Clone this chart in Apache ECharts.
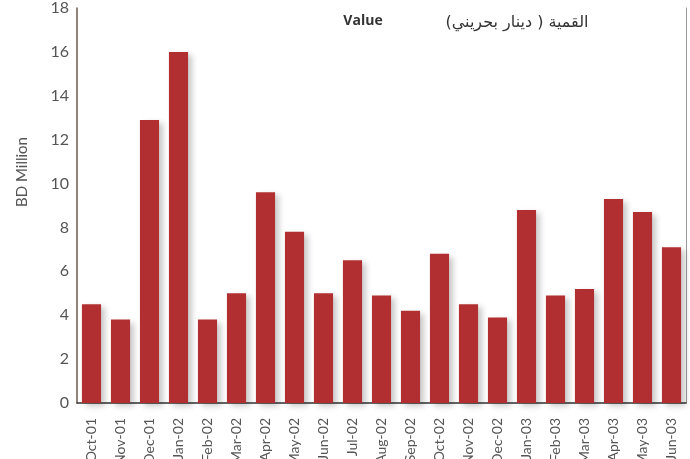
<!DOCTYPE html>
<html>
<head>
<meta charset="utf-8">
<script src="https://cdn.jsdelivr.net/npm/echarts@6/dist/echarts.min.js"></script>
<style>
  html, body { margin: 0; padding: 0; background: #fff; }
  #main { width: 690px; height: 459px; }
</style>
</head>
<body>
<div id="main"></div>
<script>
// months along the bottom
var months = ['Oct-01', 'Nov-01', 'Dec-01', 'Jan-02', 'Feb-02', 'Mar-02', 'Apr-02', 'May-02',
  'Jun-02', 'Jul-02', 'Aug-02', 'Sep-02', 'Oct-02', 'Nov-02', 'Dec-02', 'Jan-03', 'Feb-03',
  'Mar-03', 'Apr-03', 'May-03', 'Jun-03'];
// value in BD million
var values = [4.5, 3.8, 12.9, 16.0, 3.8, 5.0, 9.6, 7.8, 5.0, 6.5, 4.9, 4.2, 6.8, 4.5, 3.9, 8.8,
  4.9, 5.2, 9.3, 8.7, 7.1];
var yTicks = [0, 2, 4, 6, 8, 10, 12, 14, 16, 18];

var labelFont = 'Lato, "DejaVu Sans", sans-serif';
var chart = echarts.init(document.getElementById('main'));

chart.setOption({
  animation: false,
  grid: { left: 77, right: 4, top: 8, bottom: 56, containLabel: false, outerBoundsMode: 'none' },
  xAxis: {
    type: 'category',
    data: months,
    axisLine: { lineStyle: { color: '#333', width: 1.5 } },
    axisTick: { show: false },
    axisLabel: {
      rotate: 90,
      margin: 15,
      interval: 0,
      color: '#555',
      fontSize: 14,
      fontFamily: labelFont
    }
  },
  yAxis: [{
    type: 'value',
    min: yTicks[0],
    max: yTicks[yTicks.length - 1],
    interval: 2,
    axisLine: { show: true, lineStyle: { color: '#6e5b50', width: 1.5 } },
    axisTick: { show: false },
    splitLine: { show: false },
    axisLabel: {
      margin: 8,
      color: '#555',
      fontSize: 16,
      fontFamily: labelFont
    }
  }, {
    type: 'value',
    position: 'right',
    min: 0,
    max: 18,
    axisLine: { show: true, lineStyle: { color: '#999', width: 1 } },
    axisTick: { show: false },
    axisLabel: { show: false },
    splitLine: { show: false }
  }],
  series: [{
    type: 'bar',
    data: values,
    barWidth: '66%',
    itemStyle: {
      color: '#b22f31',
      shadowColor: 'rgba(0,0,0,0.22)',
      shadowBlur: 6,
      shadowOffsetX: 4,
      shadowOffsetY: 3
    }
  }],
  graphic: [
    {
      type: 'text',
      x: 22, y: 172,
      rotation: Math.PI / 2,
      style: {
        text: 'BD Million',
        fill: '#555',
        font: '15px ' + labelFont,
        align: 'center',
        verticalAlign: 'middle'
      }
    },
    {
      type: 'text',
      x: 363, y: 21,
      style: {
        text: 'Value',
        fill: '#333',
        font: 'bold 14px "Open Sans", "DejaVu Sans", sans-serif',
        align: 'center',
        verticalAlign: 'middle'
      }
    },
    {
      type: 'text',
      x: 517, y: 23,
      style: {
        text: '\u202Bالقمية ( دينار بحريني)\u202C',
        fill: '#333',
        font: '16px "DejaVu Sans", sans-serif',
        align: 'center',
        verticalAlign: 'middle'
      }
    }
  ]
});
</script>
</body>
</html>
